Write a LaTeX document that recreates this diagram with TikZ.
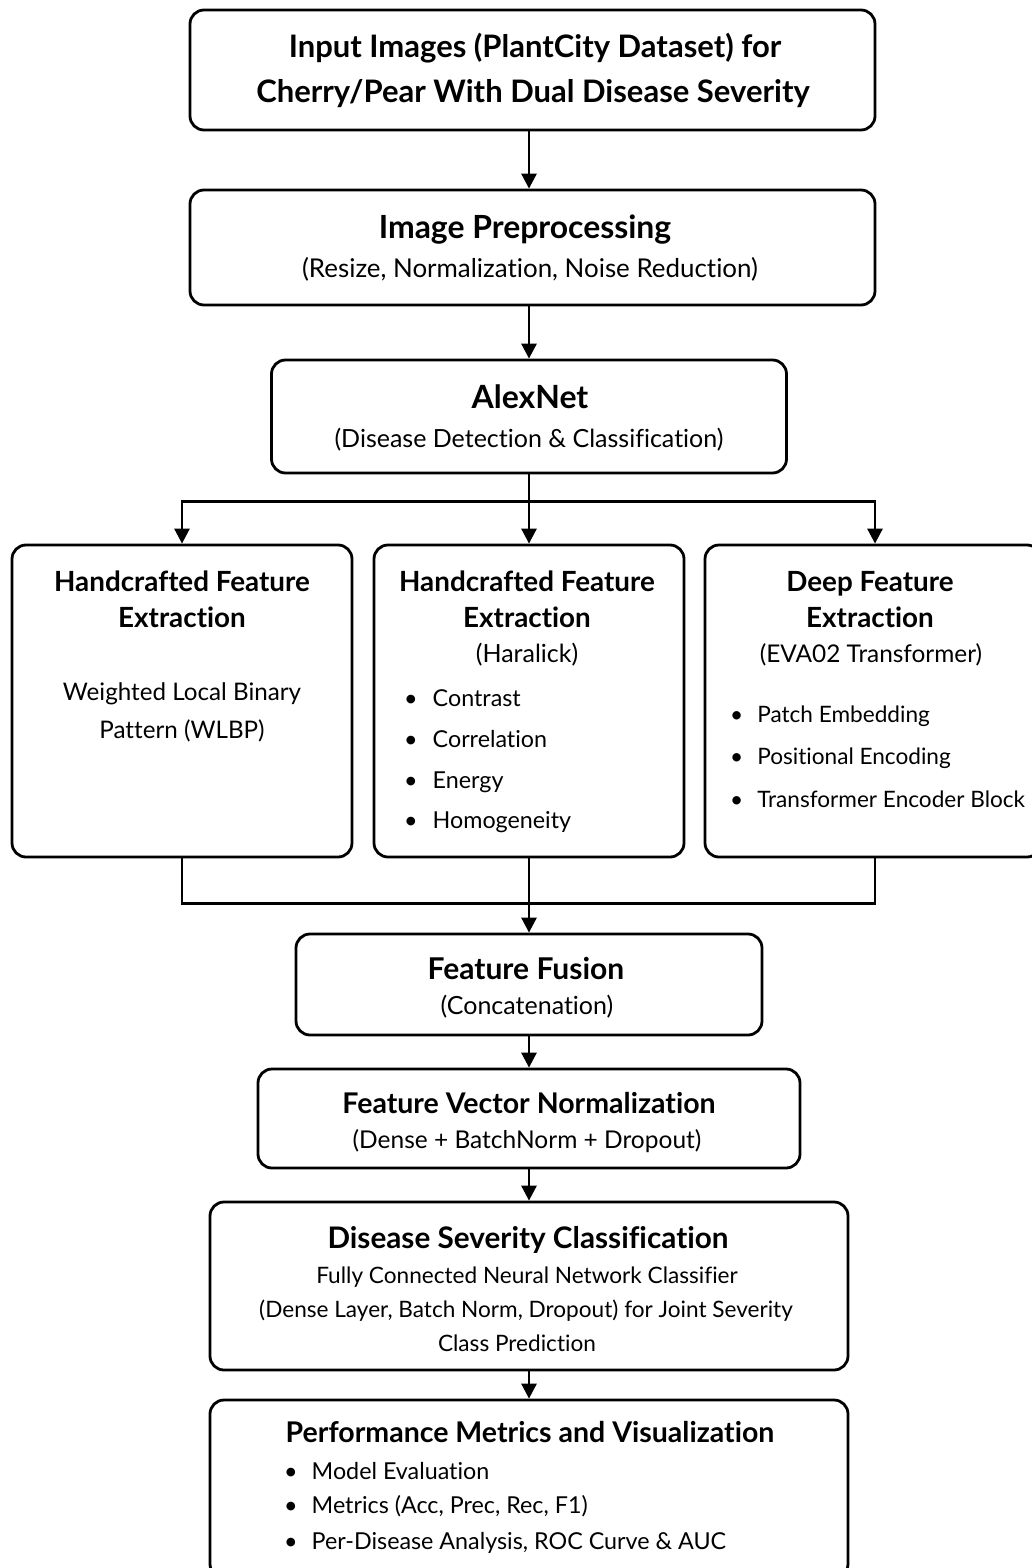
\documentclass[tikz,border=0pt]{standalone}
\usepackage{fontspec}
\setmainfont{Lato}[Ligatures={NoCommon,NoRequired,NoContextual}]
\usetikzlibrary{arrows.meta}
\begin{document}
\begin{tikzpicture}[x=1pt,y=-1pt,
  box/.style={draw, line width=2.8pt, rounded corners=14pt, inner sep=0pt},
  arr/.style={line width=2.8pt, -{Triangle[width=15pt,length=15pt]}},
  ln/.style={line width=2.8pt},
  ttl/.style={font=\fontsize{#1}{#1}\selectfont\bfseries, anchor=base, inner sep=0pt},
  ttl/.default=28,
  sub/.style={font=\fontsize{25}{30}\selectfont, anchor=base, inner sep=0pt},
  sml/.style={font=\fontsize{22.6}{26}\selectfont, anchor=base, inner sep=0pt},
  bl/.style={font=\fontsize{23.3}{28}\selectfont, anchor=base west, inner sep=0pt},
]
\useasboundingbox (0,0) rectangle (1031,1568);
\fill[white] (0,0) rectangle (1031,1568);

% boxes
\node[box, minimum width=685pt, minimum height=120pt] (b1) at (532.5,70) {};
\node[box, minimum width=685pt, minimum height=115pt] (b2) at (532.5,247.5) {};
\node[box, minimum width=515pt, minimum height=113pt] (b3) at (529,416.5) {};
\node[box, minimum width=340pt, minimum height=312pt] (bA) at (182,701) {};
\node[box, minimum width=310pt, minimum height=312pt] (bB) at (529,701) {};
\node[box, minimum width=336pt, minimum height=312pt] (bC) at (873,701) {};
\node[box, minimum width=466pt, minimum height=101pt] (bF) at (529,984.5) {};
\node[box, minimum width=542pt, minimum height=99pt] (bN) at (529,1118.5) {};
\node[box, minimum width=638pt, minimum height=168pt] (bD) at (529,1286) {};
\node[box, minimum width=638pt, minimum height=178pt] (bP) at (529,1489) {};

% texts
\node[ttl=31] (t1a) at (535,58) {Input Images (PlantCity Dataset) for};
\node[ttl=31] (t1b) at (533,103) {Cherry/Pear With Dual Disease Severity};
\node[ttl=31.9] (t2a) at (525,238) {Image Preprocessing};
\node[sub, font=\fontsize{25.9}{30}\selectfont] (t2b) at (530,277) {(Resize, Normalization, Noise Reduction)};
\node[ttl=32] (t3a) at (530,408) {AlexNet};
\node[sub] (t3b) at (529,447) {(Disease Detection \& Classification)};

\node[ttl=27.8] (tAa) at (182,591) {Handcrafted Feature};
\node[ttl=27.8] (tAb) at (182,627) {Extraction};
\node[sub, font=\fontsize{24.2}{30}\selectfont] (tAc) at (182,700) {Weighted Local Binary};
\node[sub, font=\fontsize{24.2}{30}\selectfont] (tAd) at (182,738) {Pattern (WLBP)};

\node[ttl=27.8] (tBa) at (527,591) {Handcrafted Feature};
\node[ttl=27.8] (tBb) at (527,627) {Extraction};
\node[sub] (tBc) at (527,662) {(Haralick)};
\node[bl] (tB1) at (404,706) {•\hskip 15pt Contrast};
\node[bl] (tB2) at (404,747) {•\hskip 15pt Correlation};
\node[bl] (tB3) at (404,788) {•\hskip 15pt Energy};
\node[bl] (tB4) at (404,828) {•\hskip 15pt Homogeneity};

\node[ttl=27.8] (tCa) at (870,591) {Deep Feature};
\node[ttl=27.8] (tCb) at (870,627) {Extraction};
\node[sub, font=\fontsize{24.4}{30}\selectfont] (tCc) at (871,662) {(EVA02 Transformer)};
\node[bl, font=\fontsize{22.6}{28}\selectfont] (tC1) at (730,722) {•\hskip 14pt Patch Embedding};
\node[bl, font=\fontsize{22.6}{28}\selectfont] (tC2) at (730,764) {•\hskip 14pt Positional Encoding};
\node[bl, font=\fontsize{22.6}{28}\selectfont] (tC3) at (730,807) {•\hskip 14pt Transformer Encoder Block};

\node[ttl=30] (tFa) at (526,979) {Feature Fusion};
\node[sub] (tFb) at (527,1014) {(Concatenation)};
\node[ttl=28.5] (tNa) at (529,1113) {Feature Vector Normalization};
\node[sub, font=\fontsize{24.5}{30}\selectfont] (tNb) at (527,1148) {(Dense + BatchNorm + Dropout)};

\node[ttl=29.7] (tDa) at (528,1248) {Disease Severity Classification};
\node[sml] (tDb) at (527,1283) {Fully Connected Neural Network Classifier};
\node[sml] (tDc) at (526,1317) {(Dense Layer, Batch Norm, Dropout) for Joint Severity};
\node[sml] (tDd) at (517,1351) {Class Prediction};

\node[ttl=28.5] (tPa) at (530,1442) {Performance Metrics and Visualization};
\node[bl] (tP1) at (284,1479) {•\hskip 14pt Model Evaluation};
\node[bl] (tP2) at (284,1513) {•\hskip 14pt Metrics (Acc, Prec, Rec, F1)};
\node[bl] (tP3) at (284,1549) {•\hskip 14pt Per-Disease Analysis, ROC Curve \& AUC};

% connectors
\draw[arr] (b1.south -| b3.north) -- (b2.north -| b3.north);
\draw[arr] (b2.south -| b3.north) -- (b3.north);
\draw[ln] (b3.south) -- ++(0,27) coordinate (sp);
\draw[arr] (sp) -| (bA.north);
\draw[arr] (sp) -| ([xshift=2pt]bC.north);
\draw[arr] (sp) -- (bB.north);
\path (bB.south) ++(0,45) coordinate (mg);
\draw[ln] (bA.south) |- (mg) -| ([xshift=2pt]bC.south);
\draw[ln] (bB.south) -- (mg);
\draw[arr] (mg) -- (bF.north);
\draw[arr] (bF.south) -- (bN.north);
\draw[arr] (bN.south) -- (bD.north);
\draw[arr] (bD.south) -- (bP.north);
\end{tikzpicture}
\end{document}
